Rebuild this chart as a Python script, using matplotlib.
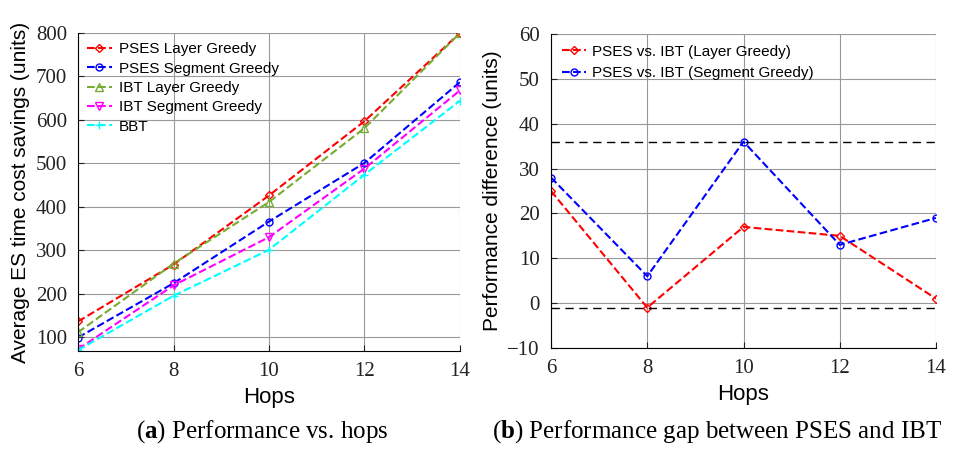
import matplotlib.pyplot as plt

hops = [6, 8, 10, 12, 14]

pses_layer = [136, 267, 426, 597, 800]
pses_segment = [99, 224, 366, 501, 687]
ibt_layer = [111, 269, 411, 581, 800]
ibt_segment = [72, 219, 330, 488, 668]
bbt = [70, 195, 301, 474, 644]

gap_layer = [25, -1, 17, 15, 1]
gap_segment = [28, 6, 36, 13, 19]
gap_max = 36
gap_min = -1

serif = "Liberation Serif"
sans = "Liberation Sans"
plt.rcParams["mathtext.fontset"] = "custom"
plt.rcParams["mathtext.bf"] = "Liberation Serif:bold"
plt.rcParams["mathtext.rm"] = "Liberation Serif"

fig = plt.figure(figsize=(9.54, 4.5), dpi=100)
ax1 = fig.add_axes([78 / 954, 1 - 351 / 450, 382 / 954, 318 / 450])
ax2 = fig.add_axes([551 / 954, 1 - 348 / 450, 385 / 954, 314 / 450])

ms = 5
ax1.plot(hops, pses_layer, "--", color="red", marker="D", ms=4, mfc="none", label="PSES Layer Greedy")
ax1.plot(hops, pses_segment, "--", color="blue", marker="o", ms=ms, mfc="none", label="PSES Segment Greedy")
ax1.plot(hops, ibt_layer, "--", color="#77ac30", marker="^", ms=ms + 1, mfc="none", label="IBT Layer Greedy")
ax1.plot(hops, ibt_segment, "--", color="magenta", marker="v", ms=ms + 1, mfc="none", label="IBT Segment Greedy")
ax1.plot(hops, bbt, "--", color="cyan", marker="+", ms=ms + 1, label="BBT")
ax1.set_xlim(6, 14)
ax1.set_ylim(68, 800)
ax1.set_yticks(range(100, 801, 100))
ax1.set_xlabel("Hops", fontsize=16, family=sans)
ax1.set_ylabel("Average ES time cost savings (units)", fontsize=15, family=sans)
ax1.legend(loc="upper left", frameon=False, prop={"family": sans, "size": 11},
           handlelength=1.6, labelspacing=0.35, borderaxespad=0.2, handletextpad=0.5)

ax2.plot(hops, gap_layer, "--", color="red", marker="D", ms=4, mfc="none", label="PSES vs. IBT (Layer Greedy)")
ax2.plot(hops, gap_segment, "--", color="blue", marker="o", ms=ms, mfc="none", label="PSES vs. IBT (Segment Greedy)")
ax2.axhline(gap_max, color="black", ls=(0, (6, 4)), lw=1)
ax2.axhline(gap_min, color="black", ls=(0, (6, 4)), lw=1)
ax2.set_xlim(6, 14)
ax2.set_ylim(-10, 60)
ax2.set_yticks(range(-10, 61, 10))
ax2.set_xlabel("Hops", fontsize=16, family=sans)
ax2.set_ylabel("Performance difference (units)", fontsize=15, family=sans)
ax2.legend(loc="upper left", frameon=False, prop={"family": sans, "size": 11},
           handlelength=1.6, labelspacing=0.5, borderaxespad=0.3, handletextpad=0.4)

for ax in (ax1, ax2):
    ax.set_xticks(hops)
    ax.grid(True, color="#999999", lw=0.8)
    ax.tick_params(direction="in", length=4, labelsize=15, colors="#222222", pad=8)
    for lab in ax.get_xticklabels() + ax.get_yticklabels():
        lab.set_family(serif)
    ax.spines["top"].set_visible(False)
    ax.spines["right"].set_visible(False)
    ax.xaxis.labelpad = 4
    ax.yaxis.labelpad = 4

fig.text(262 / 954, 1 - 432 / 450, r"($\mathbf{a}$) Performance vs. hops", ha="center", va="center",
         fontsize=18, family=serif)
fig.text(717 / 954, 1 - 432 / 450, r"($\mathbf{b}$) Performance gap between PSES and IBT", ha="center",
         va="center", fontsize=18, family=serif)

fig.savefig("out.png", dpi=100)
